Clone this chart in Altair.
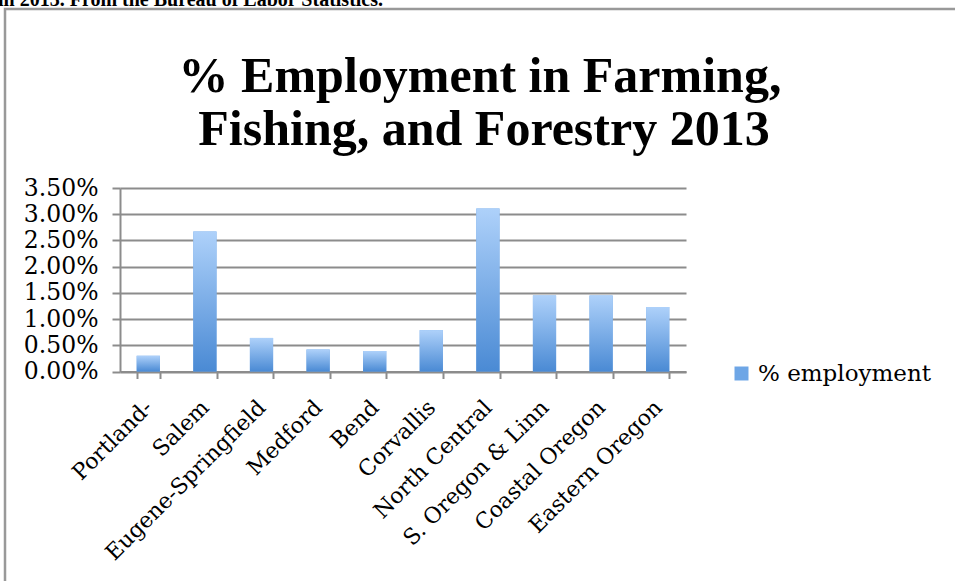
import altair as alt
import pandas as pd

# ---- data ----
regions = ["Portland-", "Salem", "Eugene-Springfield", "Medford", "Bend",
           "Corvallis", "North Central", "S. Oregon & Linn", "Coastal Oregon",
           "Eastern Oregon"]
pct_employment = [0.0030, 0.0267, 0.0064, 0.0042, 0.0039,
                  0.0079, 0.0311, 0.0145, 0.0145, 0.0123]
series_name = "% employment"
y_ticks = [0.0, 0.005, 0.010, 0.015, 0.020, 0.025, 0.030, 0.035]
title_lines = ["% Employment in Farming,", "Fishing, and Forestry 2013"]
caption = ["in 2013. From the Bureau of Labor Statistics."]

df = pd.DataFrame({"region": regions, "value": pct_employment,
                   "series": [series_name] * len(regions)})

GRAY = "#8c8c8c"
LABEL_FONT = "DejaVu Serif"
W, H = 566, 183.5
PAD_L, PAD_T = 120, 188

x_enc = alt.X(
    "region:N", sort=regions,
    scale=alt.Scale(paddingInner=0.59, paddingOuter=0.295),
    axis=alt.Axis(title=None, labelAngle=-45, labelAlign="right",
                  labelBaseline="middle", labelFont=LABEL_FONT,
                  labelFontSize=22, labelColor="black", labelPadding=25,
                  labelLimit=400, labelOverlap=False,
                  tickBand="extent", tickSize=7, tickColor=GRAY, tickWidth=2,
                  domainColor=GRAY, domainWidth=2, grid=False),
)
y_enc = alt.Y(
    "value:Q",
    scale=alt.Scale(domain=[0, 0.035], nice=False, zero=True),
    axis=alt.Axis(title=None, values=y_ticks, format=".2%",
                  labelFont=LABEL_FONT, labelFontSize=23.5, labelColor="black",
                  labelPadding=14, tickSize=8, tickColor=GRAY, tickWidth=2,
                  domainColor=GRAY, domainWidth=2,
                  grid=True, gridColor=GRAY, gridWidth=2),
)

bars_legend = alt.Chart(df).mark_bar().encode(
    x=x_enc, y=y_enc,
    color=alt.Color("series:N", scale=alt.Scale(range=["#6ea6e6"]),
                    legend=alt.Legend(title=None, orient="none",
                                      legendX=610, legendY=174,
                                      symbolType="square", symbolSize=196,
                                      symbolStrokeWidth=0,
                                      labelFont=LABEL_FONT, labelFontSize=23,
                                      labelColor="black", labelOffset=5,
                                      labelLimit=400)),
)

gradient = alt.Gradient(
    gradient="linear",
    stops=[alt.GradientStop(color="#aed1fa", offset=0),
           alt.GradientStop(color="#4a8ad4", offset=1)],
    x1=0, x2=0, y1=0, y2=1,
)
bars_grad = alt.Chart(df).mark_bar(color=gradient).encode(x=x_enc, y=y_enc)

one = pd.DataFrame({"a": [0]})
frame = alt.Chart(one).mark_rect(fillOpacity=0, stroke="#999999",
                                 strokeWidth=2.5).encode(
    x=alt.value(-115), x2=alt.value(900),
    y=alt.value(-179), y2=alt.value(500),
)

title1 = alt.Chart(pd.DataFrame({"t": [title_lines[0]]})).mark_text(
    font="Liberation Serif", fontWeight="bold", fontSize=50, color="black",
    align="center", baseline="alphabetic",
).encode(text="t:N", x=alt.value(360), y=alt.value(-96))

title2 = alt.Chart(pd.DataFrame({"t": [title_lines[1]]})).mark_text(
    font="Liberation Serif", fontWeight="bold", fontSize=50, color="black",
    align="center", baseline="alphabetic",
).encode(text="t:N", x=alt.value(364), y=alt.value(-43))

cap = alt.Chart(pd.DataFrame({"t": caption})).mark_text(
    font="Liberation Serif", fontWeight="bold", fontSize=20, color="black",
    align="left", baseline="alphabetic",
).encode(text="t:N", x=alt.value(-122), y=alt.value(-182))

chart = alt.layer(frame, bars_legend, bars_grad, title1, title2, cap).properties(
    width=W, height=H,
    autosize=alt.AutoSizeParams(type="none"),
    padding={"left": PAD_L, "top": PAD_T, "right": 955 - PAD_L - W,
             "bottom": 581 - PAD_T - H},
    background="white",
).configure_view(stroke=None)

chart.save("out.html", embed_options={"renderer": "svg", "actions": False})
